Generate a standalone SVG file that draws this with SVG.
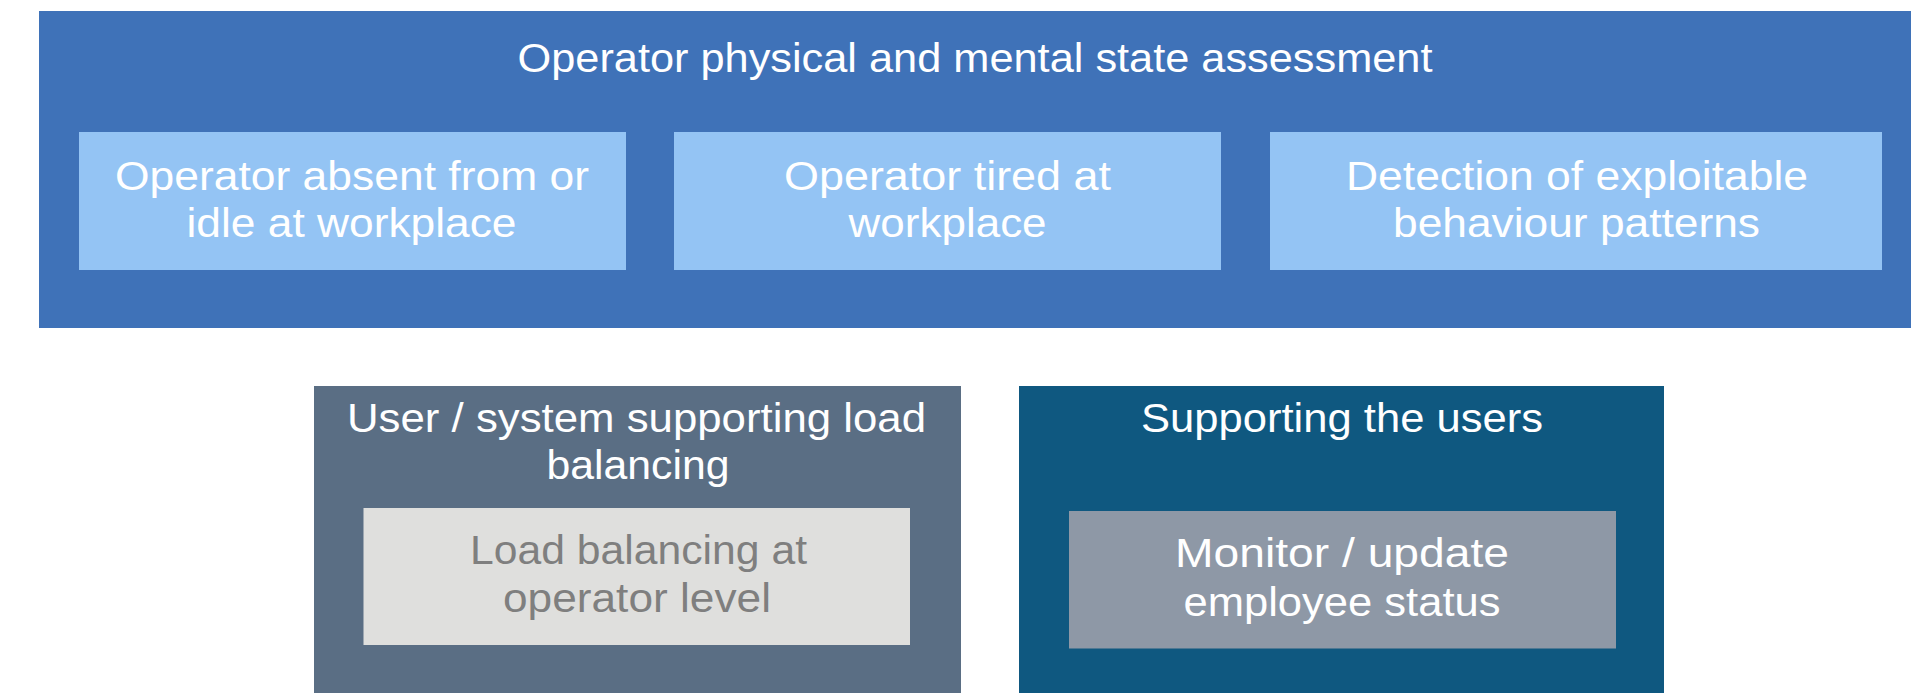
<svg xmlns="http://www.w3.org/2000/svg" width="1932" height="693" viewBox="0 0 1932 693">
<style>
text{font-family:"Liberation Sans",Arial,sans-serif;font-size:41px;text-anchor:middle}
.w{fill:#FFFFFF}
.g{fill:#7F7F7F}
.outer{fill:#3F72B8}
.sub{fill:#94C4F4}
.slate{fill:#5A6E84}
.light{fill:#DFDFDD}
.navy{fill:#0F5880}
.grey{fill:#8E98A6}
</style>
<rect width="1932" height="693" fill="#FFFFFF"/>
<g id="state-assessment">
<rect class="outer" x="39" y="11" width="1872" height="317"/>
<text class="w" x="975" y="72" textLength="915" lengthAdjust="spacingAndGlyphs">Operator physical and mental state assessment</text>
</g>
<g id="absent-idle">
<rect class="sub" x="79" y="132" width="547" height="138"/>
<text class="w" x="352" y="189.5" textLength="474" lengthAdjust="spacingAndGlyphs">Operator absent from or</text>
<text class="w" x="351.5" y="237" textLength="330" lengthAdjust="spacingAndGlyphs">idle at workplace</text>
</g>
<g id="tired">
<rect class="sub" x="674" y="132" width="547" height="138"/>
<text class="w" x="947.5" y="189.5" textLength="327" lengthAdjust="spacingAndGlyphs">Operator tired at</text>
<text class="w" x="947.6" y="237" textLength="198" lengthAdjust="spacingAndGlyphs">workplace</text>
</g>
<g id="exploitable">
<rect class="sub" x="1270" y="132" width="612" height="138"/>
<text class="w" x="1577" y="189.5" textLength="462" lengthAdjust="spacingAndGlyphs">Detection of exploitable</text>
<text class="w" x="1576.5" y="237" textLength="367" lengthAdjust="spacingAndGlyphs">behaviour patterns</text>
</g>
<g id="load-balancing-support">
<rect class="slate" x="314" y="386" width="647" height="307"/>
<text class="w" x="636.5" y="431.7" textLength="579" lengthAdjust="spacingAndGlyphs">User / system supporting load</text>
<text class="w" x="638" y="479" textLength="183" lengthAdjust="spacingAndGlyphs">balancing</text>
</g>
<g id="load-balancing-operator">
<rect class="light" x="363.5" y="508" width="546.5" height="137"/>
<text class="g" x="638.5" y="564" textLength="337" lengthAdjust="spacingAndGlyphs">Load balancing at</text>
<text class="g" x="637" y="611.7" textLength="268" lengthAdjust="spacingAndGlyphs">operator level</text>
</g>
<g id="supporting-users">
<rect class="navy" x="1019" y="386" width="645" height="307"/>
<text class="w" x="1342" y="432" textLength="402" lengthAdjust="spacingAndGlyphs">Supporting the users</text>
</g>
<g id="employee-status">
<rect class="grey" x="1069" y="511" width="547" height="137.5"/>
<text class="w" x="1342" y="567" textLength="334" lengthAdjust="spacingAndGlyphs">Monitor / update</text>
<text class="w" x="1342" y="615.7" textLength="317" lengthAdjust="spacingAndGlyphs">employee status</text>
</g>
<g id="connectors"/>
</svg>
